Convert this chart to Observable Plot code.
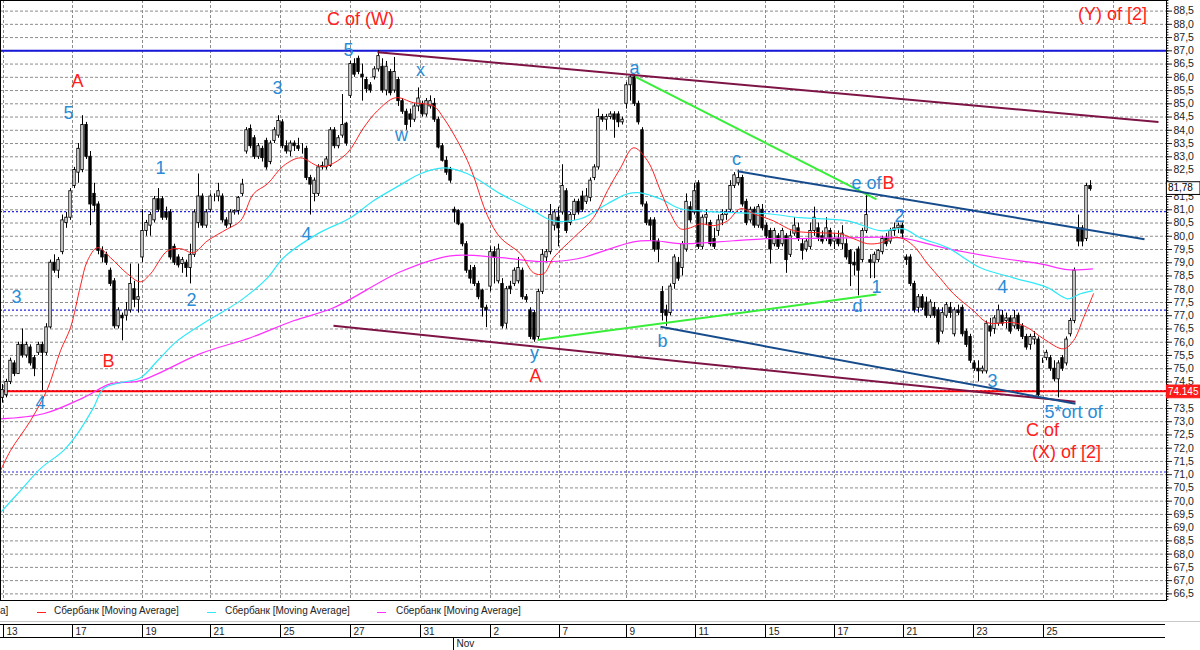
<!DOCTYPE html>
<html><head><meta charset="utf-8">
<script src="https://cdn.jsdelivr.net/npm/d3@7"></script>
<script src="https://cdn.jsdelivr.net/npm/@observablehq/plot@0.6"></script>
<style>
body{margin:0;background:#fff;font-family:"Liberation Sans",Arial,sans-serif;}
#wrap{position:relative;width:1200px;height:650px;overflow:hidden;}
#legend{position:absolute;left:0;top:605px;width:1200px;height:14px;font-size:10px;color:#222;}
#legend span.t{position:absolute;top:0;white-space:nowrap;}
#legend span.l{position:absolute;top:7px;height:1px;width:9px;}
</style></head><body>
<div id="wrap"><div id="chart"></div>
<div id="legend">
<span class="t" style="left:0px">a]</span>
<span class="l" style="left:37px;background:#ff2020"></span><span class="t" style="left:54px">Сбербанк [Moving Average]</span>
<span class="l" style="left:207px;background:#30e8f8"></span><span class="t" style="left:225px">Сбербанк [Moving Average]</span>
<span class="l" style="left:377px;background:#ff30ff"></span><span class="t" style="left:396px">Сбербанк [Moving Average]</span>
</div></div>
<script>
// ---- OHLC (hourly bars) ----
const open=[73.9,74.0,74.5,75.2,74.8,75.9,75.5,75.8,75.4,75.6,75.9,75.6,76.56,79.0,78.7,79.4,80.5,80.7,81.9,82.4,
82.5,84.2,83.0,81.6,81.2,79.45,79.3,78.7,78.3,76.6,77.0,77.0,77.2,78.0,77.6,79.2,80.2,80.4,80.6,81.4,
81.4,80.9,80.9,79.6,79.2,78.95,79.0,78.8,79.3,80.5,81.5,80.4,81.0,81.5,81.5,81.5,80.6,80.45,80.9,80.95,
81.6,83.2,84.05,83.7,83.0,83.3,83.6,82.8,83.6,83.8,84.3,83.4,83.2,83.5,83.4,83.3,83.3,82.2,81.6,81.6,
82.6,82.6,82.65,84.0,83.4,83.8,84.25,85.3,86.5,86.7,86.1,85.9,85.7,86.0,86.3,86.4,85.5,86.2,85.5,85.9,
85.1,84.7,84.6,84.4,84.9,85.0,84.6,84.9,85.0,84.4,83.4,82.85,82.5,81.0,80.95,80.45,79.7,78.7,78.8,78.2,
77.95,77.3,78.1,79.4,78.3,78.2,76.7,78.1,78.2,78.3,78.7,77.7,77.2,77.1,76.2,77.9,79.2,79.4,80.4,80.7,
80.9,81.7,80.5,80.8,81.3,81.5,81.3,81.45,82.2,82.6,84.5,84.4,84.5,84.6,84.6,84.3,85.0,85.7,86.0,85.0,
84.0,81.2,80.6,80.6,79.8,77.9,77.2,77.1,78.2,79.0,78.8,79.5,81.1,80.9,82.0,79.6,80.7,80.5,79.9,80.2,
80.6,80.8,81.0,81.9,82.0,82.2,81.3,80.6,81.0,80.4,81.0,80.4,80.2,79.7,80.0,79.7,80.0,79.3,80.1,80.3,
79.7,79.5,79.6,80.2,80.3,80.0,79.9,80.2,79.8,79.9,79.7,79.7,79.45,79.0,79.5,79.1,80.2,79.1,79.0,79.1,
79.4,79.9,79.8,80.2,80.3,80.4,79.2,79.2,78.2,77.3,77.7,77.5,77.0,77.3,77.2,76.4,77.0,77.3,76.3,77.2,
77.3,76.4,76.2,75.2,75.0,74.9,74.9,76.6,76.5,76.7,77.0,76.8,76.9,76.6,77.0,76.6,76.2,75.9,76.1,76.1,
75.3,75.4,75.4,75.0,74.6,75.4,75.2,76.3,76.8,80.3,80.3,79.9,81.9];
const high=[74.4,74.6,75.4,75.3,76.0,76.5,76.0,75.9,75.5,76.0,76.0,76.7,79.1,79.3,79.2,80.8,80.9,81.8,82.6,83.5,
84.55,84.3,83.2,82.0,81.3,79.6,79.4,78.8,78.4,77.3,77.1,77.5,78.95,78.3,78.95,81.0,80.6,80.9,81.5,81.8,
81.5,81.1,81.0,79.7,79.3,79.2,79.1,79.7,81.0,82.35,81.6,81.0,81.6,81.6,82.0,81.6,80.7,81.0,81.0,81.5,
82.15,84.1,84.2,83.8,83.5,83.4,83.7,83.6,84.1,84.55,84.4,83.6,83.6,83.6,83.7,83.5,83.4,82.3,82.2,82.7,
82.8,83.0,84.1,84.1,83.8,85.35,84.3,86.6,86.7,86.8,86.5,86.0,85.8,86.4,87.0,86.7,86.6,86.3,86.75,86.0,
85.2,84.8,84.8,85.0,85.6,85.1,85.2,85.3,85.2,84.5,83.5,83.0,82.6,81.1,81.0,80.5,79.8,78.9,78.9,78.3,
78.0,77.4,79.6,79.6,79.7,78.4,78.1,78.3,78.8,79.2,78.8,77.8,77.3,77.2,78.0,79.5,79.5,81.2,81.0,81.1,
82.7,81.8,80.9,81.4,81.4,81.7,81.8,82.2,82.7,84.8,84.6,84.6,84.7,84.7,84.7,84.5,85.8,86.1,86.1,85.1,
84.1,81.3,80.7,80.7,79.9,78.1,77.4,78.2,79.3,79.2,79.8,81.6,81.3,82.0,82.1,80.8,81.0,80.6,80.3,80.8,
81.0,81.0,82.1,82.4,82.5,82.3,81.4,81.1,81.1,81.2,81.2,80.5,80.3,80.3,80.1,80.3,80.1,80.2,80.7,80.5,
79.9,79.9,80.5,81.1,80.5,80.2,80.7,80.3,80.1,80.2,80.4,79.9,79.5,79.4,79.6,80.3,81.6,79.3,79.4,79.5,
80.0,80.1,80.3,80.5,80.5,80.5,79.3,79.3,78.3,77.8,77.8,77.7,77.6,77.5,77.3,77.3,77.5,77.5,77.3,77.4,
77.4,76.5,76.3,75.3,75.3,75.1,76.8,76.9,77.0,77.4,77.2,77.1,77.0,77.2,77.1,76.7,76.3,76.3,76.4,76.2,
75.4,75.7,75.5,75.3,75.3,75.5,76.2,76.9,78.8,80.8,80.4,82.0,82.1];
const low=[73.7,73.9,74.4,74.7,74.8,75.4,75.4,75.1,74.7,75.5,74.17,75.5,76.5,78.6,78.4,79.3,80.3,80.6,81.8,82.0,
82.4,82.9,80.4,80.9,79.3,79.0,78.9,78.1,76.5,76.5,76.05,76.8,77.1,77.3,77.1,79.0,80.0,80.0,80.5,80.9,
80.6,80.6,79.1,78.9,78.8,78.6,78.45,78.2,79.2,80.3,80.3,80.3,80.9,81.3,81.3,80.5,80.3,80.3,80.8,80.8,
81.5,83.1,83.3,82.9,82.9,82.8,82.5,82.7,83.5,83.7,83.3,83.1,83.0,83.2,83.2,83.1,82.1,80.8,81.3,81.5,
82.5,82.5,82.6,83.3,83.3,83.7,83.4,85.2,86.0,86.1,85.1,85.4,85.4,85.9,86.2,85.4,85.3,85.3,85.4,84.9,
84.6,84.0,84.1,84.3,84.7,84.5,84.5,84.8,84.3,83.3,82.8,82.3,82.0,80.5,80.4,79.6,78.6,78.2,78.1,77.6,
76.95,76.55,77.9,78.2,78.2,76.5,76.5,77.8,78.1,78.2,77.6,77.5,76.1,76.0,76.1,77.8,79.0,79.3,80.2,79.6,
80.8,80.1,80.4,80.6,80.8,80.9,81.2,81.3,82.1,82.5,84.3,84.0,84.4,83.7,84.1,84.2,84.8,85.1,84.9,84.2,
81.1,80.4,79.8,79.4,79.0,76.8,76.6,77.0,78.0,78.3,78.5,79.4,80.5,80.8,79.5,79.5,80.4,79.6,79.5,80.0,
80.4,80.6,80.9,81.8,81.9,81.1,80.4,80.5,80.3,80.3,80.2,79.9,78.95,79.6,79.5,79.6,78.6,79.2,80.0,79.8,
79.1,79.4,79.5,80.0,79.8,79.7,79.8,79.6,79.5,79.6,79.5,79.1,78.1,78.5,77.75,79.0,80.1,78.4,78.4,79.0,
79.3,79.6,79.7,80.0,80.1,79.9,78.9,78.1,77.1,77.1,77.2,76.9,76.9,76.9,75.9,76.3,76.9,76.9,76.2,77.0,
76.2,75.8,75.2,74.9,74.5,74.8,74.8,76.2,76.3,76.6,76.6,76.5,76.3,76.5,76.4,76.1,75.7,75.7,75.9,73.9,
75.2,75.3,74.9,74.5,73.9,74.9,75.1,76.2,76.7,79.6,79.6,79.8,81.7];
const close=[74.2,74.5,75.3,74.8,75.9,75.5,75.9,75.2,75.0,75.9,75.6,76.56,79.0,78.7,79.1,80.6,80.7,81.7,82.5,83.3,
84.2,83.0,81.2,81.15,79.45,79.2,79.0,78.2,76.6,77.2,76.9,77.2,78.2,77.6,77.7,80.2,80.5,80.8,81.4,81.0,
80.7,80.7,79.2,79.0,78.9,79.1,78.8,79.3,80.9,81.5,80.4,80.9,81.5,81.5,81.7,80.6,80.4,80.9,80.95,81.45,
81.95,84.0,83.4,83.0,83.4,82.95,82.6,83.5,84.0,84.35,83.4,83.2,83.5,83.4,83.3,83.3,82.2,81.95,82.1,82.6,
82.65,82.9,84.0,83.4,83.7,84.2,83.5,86.5,86.1,86.2,86.0,85.55,85.5,86.3,86.8,85.5,86.4,85.4,86.2,85.1,
84.7,84.2,84.4,84.9,85.2,84.6,85.1,85.1,84.4,83.35,82.85,82.4,82.1,80.9,80.45,79.7,78.7,78.4,78.2,77.7,
77.3,77.2,79.4,79.2,79.5,76.6,78.0,78.0,78.7,78.8,77.7,77.6,76.2,76.1,77.9,79.3,79.4,80.8,80.9,80.3,
81.9,80.2,80.8,81.3,80.9,81.0,81.5,82.1,82.6,84.5,84.4,84.5,84.6,84.4,84.3,84.4,85.7,86.0,85.0,84.3,
81.2,80.5,80.4,79.5,79.5,77.1,77.0,78.1,79.2,78.4,79.7,81.3,80.6,81.7,79.6,80.7,80.8,79.7,79.6,80.6,
80.8,80.9,81.9,82.3,82.2,81.2,80.5,81.0,80.4,81.1,80.3,80.0,79.5,80.2,79.6,80.2,79.1,80.0,80.4,79.9,
79.45,79.8,80.2,80.7,79.95,79.8,80.3,79.7,79.9,79.7,80.1,79.2,78.95,78.9,78.7,80.2,80.8,79.0,79.3,79.45,
79.9,79.7,80.2,80.3,80.4,80.1,79.1,78.2,77.2,77.7,77.3,77.0,77.5,77.0,76.0,77.1,77.4,77.1,77.2,77.1,
76.3,75.9,75.3,75.0,74.9,75.0,76.7,76.4,76.9,77.2,76.7,76.9,76.4,76.9,76.5,76.2,75.8,76.2,76.2,74.0,
75.3,75.6,75.0,74.6,75.2,75.0,76.1,76.8,78.7,79.8,79.8,81.9,81.78];

// ---- moving averages [bar, price] ----
const redMA=[[0,71.15],[2.5,71.91],[7.5,73.04],[11.75,74.24],[15,75.68],[17.5,76.55],[20,78.13],[21.75,79.08],[24.25,79.57],[27.5,79.19],[31.75,78.58],[35,78.28],[37.5,78.58],[41.75,79.45],[45,79.53],[48.25,79.38],[51.75,79.83],[56.75,80.28],[60,80.58],[63.25,81.6],[66.75,81.98],[70.75,82.66],[75,82.96],[79.25,82.66],[81.75,82.66],[86.75,83.15],[90.75,84.09],[94.25,84.74],[98.75,85.23],[103.25,85.04],[108.25,84.92],[110.75,84.47],[114.25,83.6],[116.75,82.85],[118.25,82.28],[121.75,80.77],[125,79.94],[130,79.34],[133.25,78.62],[135.75,78.58],[138.25,79.19],[143.25,79.94],[148.25,80.7],[151.75,81.72],[155,82.58],[158.25,83.34],[161.75,82.85],[165,81.72],[167.5,80.85],[170,80.28],[172.5,80.32],[175,80.47],[178.25,80.4],[181.75,80.58],[185,81.04],[188.25,80.85],[193.25,80.58],[198.25,80.21],[205,80.13],[210,80.09],[213.25,79.91],[216.75,79.72],[220,79.75],[222.5,79.91],[225,79.94],[228.25,79.64],[231.75,78.96],[235,78.4],[238.25,77.83],[243.25,77.19],[246.75,76.74],[253.25,76.74],[256.75,76.55],[260.75,76.13],[265.75,75.75],[268.25,76.06],[270.75,76.92],[273.25,77.83]];
const cyanMA=[[0,69.57],[5,70.4],[10,71.23],[15.75,71.91],[19.25,72.55],[23.25,73.53],[25.75,74.25],[30,74.47],[35,74.66],[39.25,75.3],[44.25,76.06],[51.75,76.81],[60,77.57],[66.75,78.43],[70.75,79.19],[79.25,80.09],[87.5,80.7],[93.25,81.34],[100,81.94],[105,82.36],[110.75,82.58],[116.75,82.36],[125,81.6],[133.25,80.96],[138.25,80.58],[145,80.66],[151.75,81.23],[156.75,81.6],[160,81.64],[165,81.41],[170,81.04],[175,80.96],[183.25,80.89],[191.75,80.85],[200,80.7],[211.75,80.58],[220,80.21],[225.75,80.28],[230,79.94],[236.75,79.57],[245,78.81],[253.25,78.43],[261.75,78.06],[266.75,77.64],[270,77.83],[273,77.94]];
const magentaMA=[[0,73.11],[10.75,73.3],[20.75,73.91],[27.5,74.43],[35,74.55],[50,75.57],[62.5,76.17],[73.25,76.81],[83.25,77.3],[100,78.66],[112.5,79.26],[125,79.19],[135.75,79.04],[144.25,79.15],[158.25,79.79],[163.25,79.83],[170.75,79.72],[183.25,79.83],[191.75,79.91],[200,79.91],[211.75,79.94],[225,79.94],[236.75,79.53],[249.25,79.19],[260,78.96],[266.75,78.74],[273,78.77]];

// ---- trend lines [bar1, price1, bar2, price2] ----
const maroonLines=[[94.25,86.95,289.5,84.31],[83.25,76.62,268.75,73.75]];
const greenLines=[[134.25,76.08,219,77.8],[158.75,86.02,219,81.39]];
const navyLines=[[184.25,82.45,286,79.89],[165,76.58,268.75,73.68]];

// ---- horizontal levels ----
const blueLevel=87.0;
const redLevel=74.145;
const dottedLevels=[80.93,77.21,74.16,71.1];

// ---- wave labels ----
const waveText=["C of (W)","(Y) of [2]","A","5","3","5","x","w","a","1","c","e of","B","2","3","4","B","4","y","A","b","d","1","2","4","3","5*ort of","C of","(X) of [2]"];
const waveX=[90,278,19.25,17,69.25,87,105,100.25,158.5,40,184,216.5,222,47.75,4,76.5,27,10,133.5,133.75,165.5,214.25,219,224.75,250.5,248,268.25,260.5,266.5];
const waveY=[88.2,88.38,85.87,84.66,85.6,87.04,86.25,83.8,86.36,82.58,82.92,82.02,82.02,77.6,77.68,80.09,75.3,73.68,75.6,74.7,76.02,77.34,78.09,80.77,78.06,74.51,73.34,72.66,71.83];
const waveColor=["r","r","r","b","b","b","b","b","b","b","b","b","r","b","b","b","r","b","b","r","b","b","b","b","b","b","b","r","r"];

// ---- date axis ----
const dayTicks=[0.75,18,35.5,52.5,70,87.5,105,122.5,139.75,156.5,173.75,191.25,208.5,225.75,243.25,260.75];
const dayLabels=["13","17","19","21","25","27","31","2","7","9","11","15","17","21","23","25"];
const gridDays=[...dayTicks,278.25];
const monthTick=[113.25];
const monthLabel="Nov";

// ---- price tags ----
const lastTag=[{v:81.78,label:"81,78"}];
const levelTag=[{v:74.145,label:"74.145"}];

// right-axis ticks; labels hidden behind the price tags are left out
const yTicks=d3.range(66.5,88.51,0.5);
const yHidden=[74.0,82.0];
const yLabelTicks=yTicks.filter(t=>!yHidden.some(h=>Math.abs(h-t)<1e-6));
const yMinor=d3.range(66.3,88.9,0.1);

const candles=open.map((o,i)=>({i,o,h:high[i],l:low[i],c:close[i]}));
const up=candles.filter(d=>d.c>=d.o), down=candles.filter(d=>d.c<d.o);
const labelMap=new Map(dayTicks.map((d,i)=>[d,dayLabels[i]]));
const waves=waveText.map((t,i)=>({t,x:waveX[i],y:waveY[i],c:waveColor[i]==="r"?"#ff2020":"#2a8cd6"}));
const seg=a=>a.map(d=>({x1:d[0],y1:d[1],x2:d[2],y2:d[3]}));

const chart=Plot.plot({
  width:1200,height:650,marginTop:0,marginLeft:0,marginRight:34,marginBottom:50,
  x:{domain:[0,291.5]},
  y:{domain:[66.25,88.9]},
  style:{fontFamily:"Liberation Sans, Arial, sans-serif",background:"#fff",color:"#222"},
  marks:[
    Plot.gridY(yTicks,{stroke:"#8c8c8c",strokeOpacity:1,strokeDasharray:"3,2"}),
    Plot.gridX(gridDays,{stroke:"#8c8c8c",strokeOpacity:1,strokeDasharray:"3,2"}),
    Plot.ruleY(dottedLevels,{stroke:"#2424e6",strokeDasharray:"2,2",strokeWidth:1.2}),
    Plot.ruleY([blueLevel],{stroke:"#1818d8",strokeWidth:2}),
    Plot.ruleY([redLevel],{stroke:"#ff0000",strokeWidth:2}),
    Plot.ruleX(candles,{x:d=>d.i+0.5,y1:"l",y2:"h",stroke:"#000",strokeWidth:1}),
    Plot.rect(up,{x1:d=>d.i+0.2,x2:d=>d.i+0.8,y1:"o",y2:"c",fill:"#fff",stroke:"#000",strokeWidth:0.9}),
    Plot.rect(down,{x1:d=>d.i+0.2,x2:d=>d.i+0.8,y1:"o",y2:"c",fill:"#000",stroke:"#000",strokeWidth:0.9}),
    Plot.line(magentaMA,{x:d=>d[0],y:d=>d[1],stroke:"#ff30ff",strokeWidth:1.2,curve:"catmull-rom"}),
    Plot.line(cyanMA,{x:d=>d[0],y:d=>d[1],stroke:"#30e8f8",strokeWidth:1.2,curve:"catmull-rom"}),
    Plot.line(redMA,{x:d=>d[0],y:d=>d[1],stroke:"#ff2020",strokeWidth:1,curve:"catmull-rom"}),
    Plot.link(seg(maroonLines),{x1:"x1",y1:"y1",x2:"x2",y2:"y2",stroke:"#7d1445",strokeWidth:2}),
    Plot.link(seg(greenLines),{x1:"x1",y1:"y1",x2:"x2",y2:"y2",stroke:"#38ee38",strokeWidth:2}),
    Plot.link(seg(navyLines),{x1:"x1",y1:"y1",x2:"x2",y2:"y2",stroke:"#164c8c",strokeWidth:2}),
    Plot.text(waves,{x:"x",y:"y",text:"t",fill:"c",fontSize:18}),
    Plot.frame({stroke:"#000"}),
    Plot.axisY(yLabelTicks,{anchor:"right",tickSize:5,tickPadding:2,fontSize:10.5,tickFormat:d=>d.toFixed(1).replace(".",",")}),
    Plot.ruleY(yMinor,{x1:291.5,x2:292.1,stroke:"#000"}),
    Plot.rect(lastTag,{x1:291.6,x2:300,y1:d=>d.v-0.22,y2:d=>d.v+0.26,fill:"#fff",stroke:"#000"}),
    Plot.text(lastTag,{x:291.6,y:"v",text:"label",fill:"#000",dx:1,dy:-1.5,textAnchor:"start",fontSize:10}),
    Plot.rect(levelTag,{x1:291.6,x2:300,y1:d=>d.v-0.26,y2:d=>d.v+0.22,fill:"#ff1a1a",stroke:"#ff1a1a"}),
    Plot.text(levelTag,{x:291.6,y:"v",text:"label",fill:"#fff",dx:1,dy:0.5,textAnchor:"start",fontSize:10}),
    Plot.axisX(dayTicks,{anchor:"bottom",tickSize:13,dy:24,fill:"none",stroke:"#000"}),
    Plot.axisX(dayTicks,{anchor:"bottom",tickSize:0,tickPadding:3,dy:24,dx:3,textAnchor:"start",fontSize:10,tickFormat:d=>labelMap.get(d)}),
    Plot.axisX(monthTick,{anchor:"bottom",tickSize:12,dy:38,fill:"none",stroke:"#000"}),
    Plot.axisX(monthTick,{anchor:"bottom",tickSize:0,tickPadding:1,dy:38,dx:3,textAnchor:"start",fontSize:10,tickFormat:()=>monthLabel})
  ]
});
const svg=d3.select(chart);
svg.append("line").attr("x1",0).attr("x2",1200).attr("y1",621.5).attr("y2",621.5).attr("stroke","#c8c8c8");
svg.append("line").attr("x1",0).attr("x2",1165).attr("y1",624.5).attr("y2",624.5).attr("stroke","#000");
svg.append("line").attr("x1",0).attr("x2",1165).attr("y1",637.5).attr("y2",637.5).attr("stroke","#000");
document.getElementById("chart").appendChild(chart);
</script>
</body></html>
